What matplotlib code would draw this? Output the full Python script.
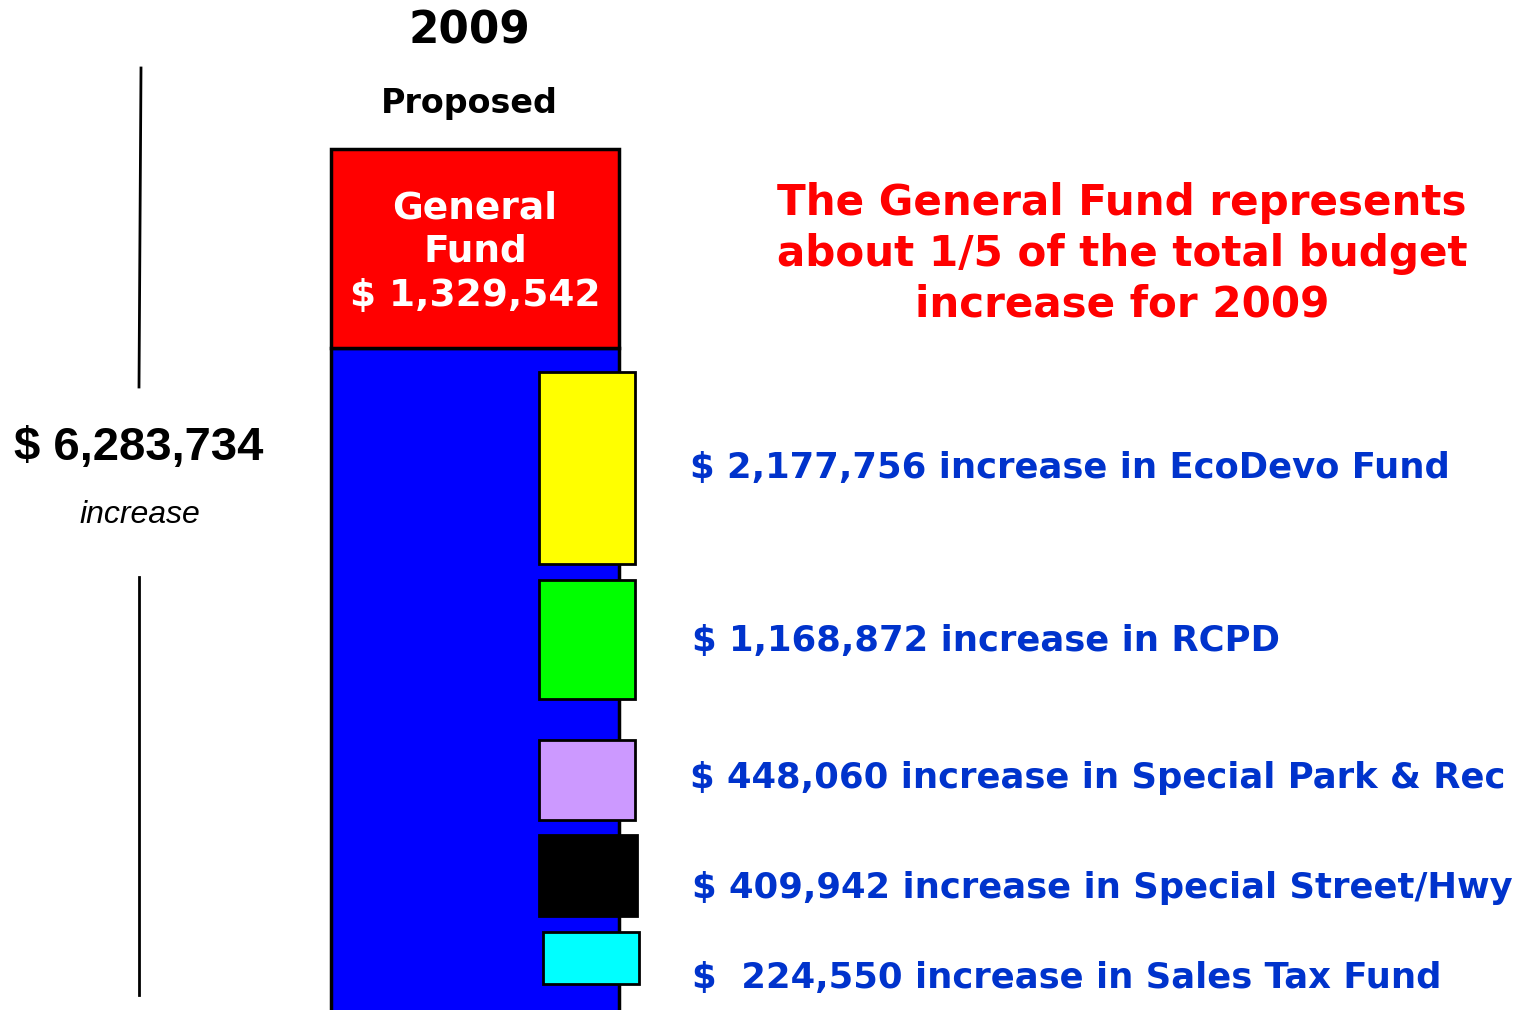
import matplotlib.pyplot as plt
from matplotlib.patches import Rectangle

# values
YEAR = "2009"
TOTAL_INCREASE = 6283734
GENERAL_FUND = 1329542
funds   = ["EcoDevo Fund", "RCPD", "Special Park & Rec", "Special Street/Hwy", "Sales Tax Fund"]
amounts = [2177756, 1168872, 448060, 409942, 224550]
colors  = ["#FFFF00", "#00FF00", "#CC99FF", "#000000", "#00FFFF"]
note_lines = ["The General Fund represents",
              "about 1/5 of the total budget",
              "increase for 2009"]

# layout in pixel units (the slide is not drawn to scale)
box_x   = [539, 539, 539, 539, 543]
box_w   = [96, 96, 96, 98, 96]
box_top = [372, 580, 740, 835, 932]
box_bot = [564, 699, 820, 916, 984]
label_y = [468, 641, 778, 888, 978]
label_x = [690, 692, 690, 692, 692]
gaps    = [" ", " ", " ", " ", "  "]

W, H = 1536, 1010
fig = plt.figure(figsize=(W / 100, H / 100), dpi=100)
ax = fig.add_axes([0, 0, 1, 1])
ax.set_xlim(0, W)
ax.set_ylim(H, 0)
ax.axis("off")

# main stacked column
ax.add_patch(Rectangle((331, 348), 288, 700, facecolor="#0000FF",
                       edgecolor="black", linewidth=2.5, zorder=1))
ax.add_patch(Rectangle((331, 149), 288, 199, facecolor="#FF0000",
                       edgecolor="black", linewidth=2.5, zorder=2))
ax.text(475, 252, f"General\nFund\n$ {GENERAL_FUND:,}", color="white",
        fontsize=27, fontweight="bold", ha="center", va="center",
        linespacing=1.27, zorder=3)

# small fund boxes
for x, w, t, b, c in zip(box_x, box_w, box_top, box_bot, colors):
    ax.add_patch(Rectangle((x, t), w, b - t, facecolor=c, edgecolor="black",
                           linewidth=2, zorder=4))

for name, v, gap, x, y in zip(funds, amounts, gaps, label_x, label_y):
    ax.text(x, y, f"${gap}{v:,} increase in {name}", color="#0033CC",
            fontsize=25.5, fontweight="bold", ha="left", va="center")

# headline
ax.text(469, 31, YEAR, fontsize=31.5, fontweight="bold", ha="center", va="center")
ax.text(469, 103, "Proposed", fontsize=24, fontweight="bold", ha="center", va="center")

ax.text(1122, 254, "\n".join(note_lines), color="#FF0000", fontsize=30.3,
        fontweight="bold", ha="center", va="center", linespacing=1.26)

# total increase bracket
ax.plot([141, 139], [68, 387], color="black", linewidth=2)
ax.plot([139, 139], [577, 995], color="black", linewidth=2)
ax.text(139, 448, f"$ {TOTAL_INCREASE:,}", fontsize=34, fontweight="bold",
        family="Liberation Sans", ha="center", va="center")
ax.text(140, 515, "increase", fontsize=23, style="italic",
        family="Liberation Sans", ha="center", va="center")

fig.savefig("out.png", dpi=100)
